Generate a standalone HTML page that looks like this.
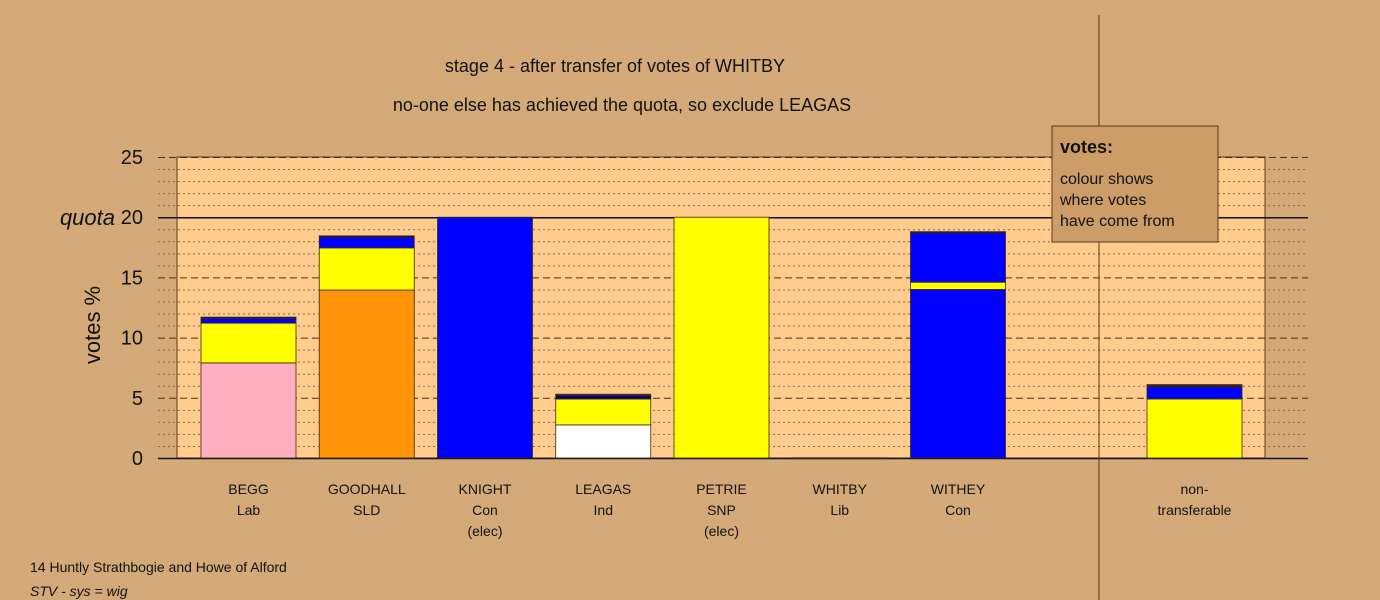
<!DOCTYPE html>
<html><head><meta charset="utf-8"><style>
body{margin:0;background:#d4aa78;}
svg{display:block;font-family:"Liberation Sans",sans-serif;}
</style></head><body>
<svg id="chart" width="1380" height="600" viewBox="0 0 1380 600">
<rect x="0" y="0" width="1380" height="600" fill="#d4aa78"/>
<text x="615" y="72" font-size="18" text-anchor="middle" fill="#111">stage 4 - after transfer of votes of WHITBY</text>
<text x="622" y="111" font-size="18" text-anchor="middle" fill="#111">no-one else has achieved the quota, so exclude LEAGAS</text>
<rect x="177" y="157" width="1088" height="301" fill="#ffcc8e" stroke="#5a3a1a" stroke-width="1"/>
<g id="grid"></g>
<g id="bars"></g>
<g id="ylabels"></g>
<g id="xlabels"></g>
<text x="100" y="325" font-size="22" fill="#111" text-anchor="middle" transform="rotate(-90 100 325)">votes %</text>
<line x1="1099" y1="15" x2="1099" y2="600" stroke="#5a3a1a" stroke-width="1"/>
<g>
<rect x="1052" y="126" width="166" height="116" fill="#cd9d68" stroke="#5a3a1a"/>
<text x="1060" y="153" font-size="18" font-weight="bold" fill="#111">votes:</text>
<text font-size="16" fill="#111"><tspan x="1060" y="184">colour shows</tspan><tspan x="1060" y="205">where votes</tspan><tspan x="1060" y="226">have come from</tspan></text>
</g>
<text x="30" y="572" font-size="14" fill="#111">14 Huntly Strathbogie and Howe of Alford</text>
<text x="30" y="596" font-size="14" font-style="italic" fill="#111">STV - sys = wig</text>
</svg>
<script>
const categories = ["BEGG","GOODHALL","KNIGHT","LEAGAS","PETRIE","WHITBY","WITHEY","","non-"];
const subLabels = ["Lab","SLD","Con","Ind","SNP","Lib","Con","","transferable"];
const thirdLabels = ["","","(elec)","","(elec)","","","",""];
const segColors = ["#ffb0c0","#ff9408","#0000ff","#ffffff","#ffff00","#0000ff","#0000ff","#ffff00","#000080","#800080"];
// each bar: list of [value, colorIndex]
const seriesBEGG = [[7.9,0],[3.3,7],[0.4,2],[0.1,8]];
const seriesGOODHALL = [[13.95,1],[3.5,7],[0.85,2],[0.15,8]];
const seriesKNIGHT = [[20,2]];
const seriesLEAGAS = [[2.75,3],[2.15,7],[0.3,8],[0.1,9]];
const seriesPETRIE = [[20,4]];
const seriesWHITBY = [[0.02,8]];
const seriesWITHEY = [[14.0,2],[0.6,7],[4.1,2],[0.1,8]];
const seriesEmpty = [];
const seriesNT = [[4.9,7],[1.0,2],[0.1,8],[0.1,9]];
const barSeries = [seriesBEGG,seriesGOODHALL,seriesKNIGHT,seriesLEAGAS,seriesPETRIE,seriesWHITBY,seriesWITHEY,seriesEmpty,seriesNT];
const yTicks = [0,5,10,15,20,25];
const quota = 20;

const NS="http://www.w3.org/2000/svg";
const y0=458, yTop=157, vMax=25;
const yS = v => y0 - v*(y0-yTop)/vMax;
const xS = i => 201 + i*118.25;
const bw = 95;
function mk(tag, attrs, parent){const e=document.createElementNS(NS,tag);for(const k in attrs)e.setAttribute(k,attrs[k]);parent.appendChild(e);return e;}
const grid=document.getElementById('grid');
for(let v=1; v<vMax; v++){
  if(v%5===0) continue;
  const l=mk('line',{x1:158,x2:1308,y1:yS(v)+0.5,y2:yS(v)+0.5,stroke:'#8a6a4a','stroke-width':1,'stroke-dasharray':'2,3'},grid);
  
  
}
yTicks.forEach(v=>{
  if(v===0) return;
  const isQ = v===quota;
  const l=mk('line',{x1:158,x2:1308,y1:yS(v)+0.5,y2:yS(v)+0.5,stroke:isQ?'#111':'#4a3018','stroke-width':isQ?1.5:1,'stroke-dasharray':isQ?'none':'7,4'},grid);
  
  
});
const ax=mk('line',{x1:158,x2:1308,y1:y0+0.5,y2:y0+0.5,stroke:'#111','stroke-width':1.5},grid);



const yl=document.getElementById('ylabels');
yTicks.forEach(v=>{
  const t=mk('text',{x:143,y:yS(v)+7,'font-size':20,'text-anchor':'end',fill:'#111'},yl);
  t.textContent=v;
  
  
});
const qt=mk('text',{x:115,y:yS(quota)+8,'font-size':22,'font-style':'italic','text-anchor':'end',fill:'#111'},yl);
qt.textContent='quota';



const bars=document.getElementById('bars');
barSeries.forEach((segs,i)=>{
  let acc=0;
  segs.forEach(([v,c])=>{
    const yt=yS(acc+v), yb=yS(acc);
    const r=mk('rect',{x:xS(i),y:yt,width:bw,height:Math.max(yb-yt,1),fill:segColors[c],stroke:'#3a2a10','stroke-width':0.8},bars);
    
    
    acc+=v;
  });
});
const xl=document.getElementById('xlabels');
categories.forEach((c,i)=>{
  const cx=xS(i)+bw/2;
  [c,subLabels[i],thirdLabels[i]].forEach((s,k)=>{
    if(!s) return;
    const t=mk('text',{x:cx,y:494+k*21,'font-size':14,'text-anchor':'middle',fill:'#111'},xl);
    t.textContent=s;
    
    
  });
});
</script>
</body></html>
